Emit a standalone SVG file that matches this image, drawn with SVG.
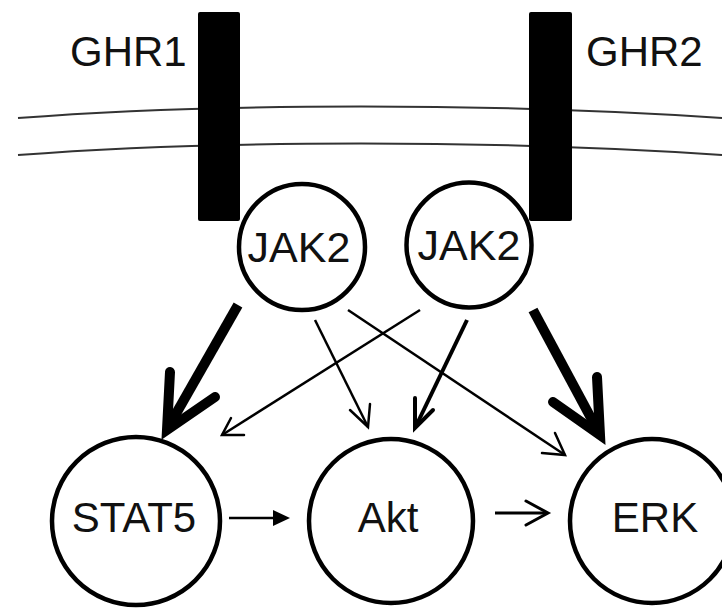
<svg xmlns="http://www.w3.org/2000/svg" width="722" height="608" viewBox="0 0 722 608">
  <style>
    .label { font-family: "Liberation Sans", Arial, sans-serif; fill: #111; }
    .membrane { fill: none; stroke: #333; stroke-width: 2; }
    .receptor { fill: #000; }
    .node { fill: #fff; stroke: #000; stroke-width: 4.5; }
    .edge { fill: none; stroke: #000; stroke-linecap: butt; }
    .head { fill: none; stroke: #000; stroke-linecap: round; stroke-linejoin: miter; stroke-miterlimit: 10; }
    .thick { stroke-width: 10; }
    .mid { stroke-width: 4; }
    .thin { stroke-width: 2.5; }
  </style>

  <!-- cell membrane: two gently curved lines -->
  <g id="membrane">
    <path class="membrane" d="M18,118 C120,110 250,106.5 361,106.5 C472,106.5 602,110 722,118"/>
    <path class="membrane" d="M18,155 C120,147 250,143.5 361,143.5 C472,143.5 602,147 722,155"/>
  </g>

  <g id="ghr1">
    <rect class="receptor" x="198" y="12" width="42" height="209" rx="2"/>
    <text class="label" x="70" y="66" font-size="42">GHR1</text>
  </g>

  <g id="ghr2">
    <rect class="receptor" x="529" y="12" width="43" height="209" rx="2"/>
    <text class="label" x="586" y="66" font-size="42">GHR2</text>
  </g>

  <g id="jak2-left">
    <circle class="node" cx="302" cy="247" r="63"/>
    <text class="label" x="299" y="262" font-size="43" text-anchor="middle">JAK2</text>
  </g>

  <g id="jak2-right">
    <circle class="node" cx="469" cy="245" r="62.5"/>
    <text class="label" x="469" y="260" font-size="43" text-anchor="middle">JAK2</text>
  </g>

  <g id="stat5">
    <circle class="node" cx="136" cy="521" r="84"/>
    <text class="label" x="134" y="532" font-size="42" text-anchor="middle">STAT5</text>
  </g>

  <g id="akt">
    <circle class="node" cx="391" cy="521" r="82"/>
    <text class="label" x="388" y="532" font-size="42" text-anchor="middle">Akt</text>
  </g>

  <g id="erk">
    <circle class="node" cx="652" cy="521" r="82"/>
    <text class="label" x="655" y="532" font-size="42" text-anchor="middle">ERK</text>
  </g>

  <g id="connectors">
    <!-- JAK2 (GHR1) to STAT5, strong -->
    <line class="edge thick" x1="238" y1="305" x2="169" y2="426"/>
    <polyline class="head thick" points="170,372 167,430 215,397"/>
    <!-- JAK2 (GHR2) to ERK, strong -->
    <line class="edge thick" x1="533" y1="310" x2="598" y2="431"/>
    <polyline class="head thick" points="597,377 600,435 553,402"/>
    <!-- JAK2 (GHR1) to Akt -->
    <line class="edge thin" x1="315" y1="320" x2="368" y2="427"/>
    <polyline class="head thin" points="350,410 368,427 370,404"/>
    <!-- JAK2 (GHR2) to Akt -->
    <line class="edge mid" x1="467" y1="320" x2="416" y2="426"/>
    <polyline class="head mid" points="415,398 415,428 433,410"/>
    <!-- JAK2 (GHR2) to STAT5 -->
    <line class="edge thin" x1="420" y1="310" x2="222" y2="435"/>
    <polyline class="head thin" points="231,418 222,435 244,435"/>
    <!-- JAK2 (GHR1) to ERK -->
    <line class="edge thin" x1="348" y1="310" x2="565" y2="455"/>
    <polyline class="head thin" points="555,433 565,455 542,453"/>
    <!-- STAT5 to Akt -->
    <line class="edge" stroke-width="2.5" x1="229" y1="518" x2="276" y2="518"/>
    <polygon fill="#000" points="273,510 290,518 273,526"/>
    <!-- Akt to ERK -->
    <line class="edge" stroke-width="3" x1="495" y1="513" x2="546" y2="513"/>
    <polyline class="head" stroke-width="3" points="526,501 548,513 526,525"/>
  </g>
</svg>
